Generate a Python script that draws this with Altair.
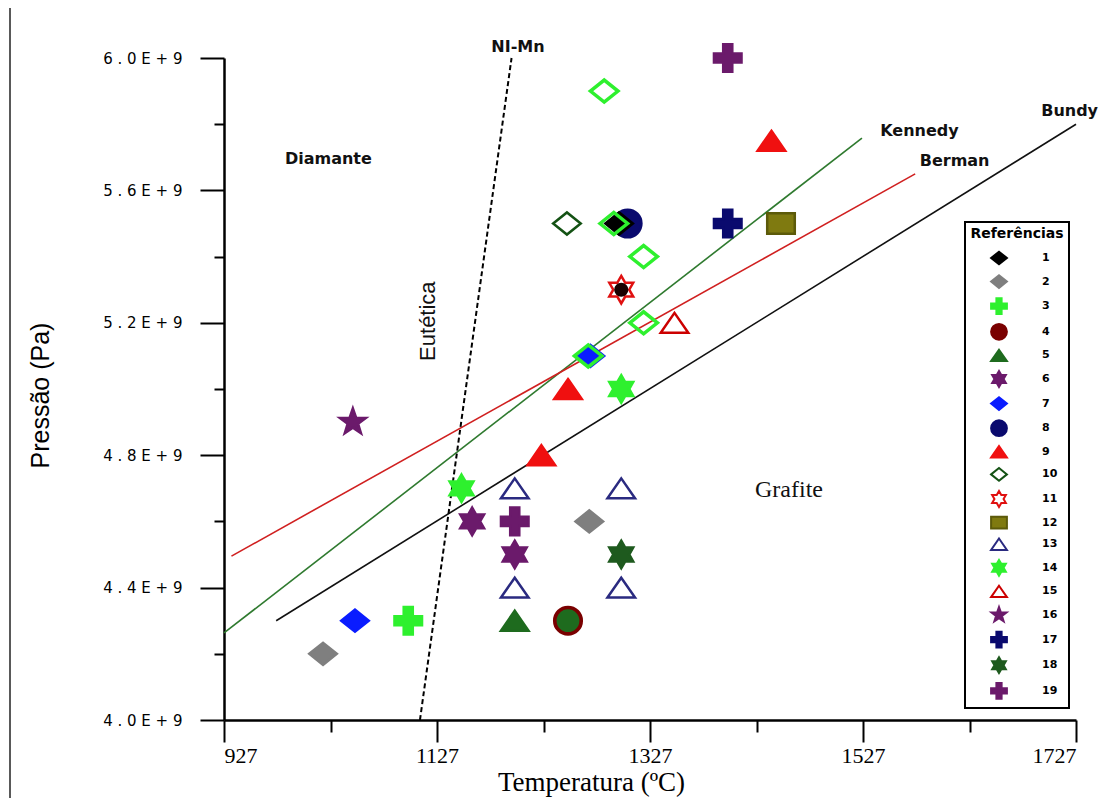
import altair as alt
import pandas as pd

# ---------------- data ----------------
ref_ids = [str(i) for i in range(1, 20)]
ref_stroke = ["#000000", "#7f7f7f", "#2ef02e", "#7a0000", "#1e6b1e", "#6b1a6b", "#0a1cff",
              "#0a0a6e", "#f01010", "#145214", "#e01010", "#5c5a0a", "#2a2a80", "#2ef02e",
              "#cc0000", "#6b1a6b", "#0a0a6e", "#1e5a1e", "#6b1a6b"]
ref_fill = ["#000000", "#7f7f7f", "#2ef02e", "#7a0000", "#1e6b1e", "#6b1a6b", "#0a1cff",
            "#0a0a6e", "#f01010", "white", "white", "#7f7a10", "white", "#2ef02e",
            "white", "#6b1a6b", "#0a0a6e", "#1e5a1e", "#6b1a6b"]

DIAMOND = "M-1,0L0,-0.8L1,0L0,0.8Z"
CROSS = ("M-0.33,-1L0.33,-1L0.33,-0.33L1,-0.33L1,0.33L0.33,0.33L0.33,1L-0.33,1"
         "L-0.33,0.33L-1,0.33L-1,-0.33L-0.33,-0.33Z")
TRI = "M0,-0.72L1,0.72L-1,0.72Z"
SQUARE = "M-1,-0.75L1,-0.75L1,0.75L-1,0.75Z"
HEXA = ("M0,-1L0.289,-0.5L0.866,-0.5L0.577,0L0.866,0.5L0.289,0.5L0,1L-0.289,0.5"
        "L-0.866,0.5L-0.577,0L-0.866,-0.5L-0.289,-0.5Z")
STAR5 = ("M0,-1L0.235,-0.324L0.951,-0.309L0.38,0.124L0.588,0.809L0,0.4L-0.588,0.809"
         "L-0.38,0.124L-0.951,-0.309L-0.235,-0.324Z")
ref_shape = [DIAMOND, DIAMOND, CROSS, "circle", TRI, HEXA, DIAMOND, "circle", TRI, DIAMOND,
             HEXA, SQUARE, TRI, HEXA, TRI, STAR5, CROSS, HEXA, CROSS]

pt_ref = ["8", "19", "9", "10", "1", "17", "12", "11", "15", "7", "9", "14", "16", "9",
          "14", "13", "13", "6", "19", "2", "6", "18", "13", "13", "5", "4", "7", "3", "2"]
pt_temp = [1306, 1400, 1441, 1249, 1298, 1400, 1450, 1300, 1350, 1271, 1250, 1300, 1048, 1225,
           1150, 1200, 1300, 1160, 1200, 1270, 1200, 1300, 1200, 1300, 1200, 1250, 1050, 1100, 1020]
pt_press = [5.5e9, 6.0e9, 5.75e9, 5.5e9, 5.5e9, 5.5e9, 5.5e9, 5.3e9, 5.2e9, 5.1e9, 5.0e9, 5.0e9,
            4.9e9, 4.8e9, 4.7e9, 4.7e9, 4.7e9, 4.6e9, 4.6e9, 4.6e9, 4.5e9, 4.5e9, 4.4e9, 4.4e9,
            4.3e9, 4.3e9, 4.3e9, 4.3e9, 4.2e9]

# lime open diamonds (not in legend)
lime_temp = [1284, 1293, 1321, 1321, 1269]
lime_press = [5.9e9, 5.5e9, 5.4e9, 5.2e9, 5.1e9]
# dark centre of point at 5.3 GPa and green fill of point at 4.3 GPa
dot_temp = [1300]
dot_press = [5.3e9]
green_temp = [1250]
green_press = [4.3e9]

line_name = ["Kennedy", "Kennedy", "Berman", "Berman", "Bundy", "Bundy"]
line_temp = [927, 1526, 934, 1576, 976, 1727]
line_press = [4.263e9, 5.758e9, 4.495e9, 5.65e9, 4.30e9, 5.80e9]
line_colors = ["#2f7a2f", "#d02020", "#111111"]

nimn_temp = [1111, 1197]
nimn_press = [4.0e9, 6.0e9]

lab_sans = ["NI-Mn", "Kennedy", "Berman", "Bundy", "Diamante"]
lab_sans_t = [1203, 1580, 1613, 1721, 1025]
lab_sans_p = [6.033e9, 5.78e9, 5.689e9, 5.84e9, 5.695e9]

x_ticks = list(range(927, 1728, 100))
y_ticks = [4000000000 + 200000000 * i for i in range(11)]

# ---------------- chart ----------------
xs = alt.Scale(domain=[927, 1727], nice=False, zero=False)
ys = alt.Scale(domain=[4.0e9, 6.0e9], nice=False, zero=False)

x_axis = alt.Axis(
    values=x_ticks, format="d", grid=False,
    labelExpr="(datum.value - 927) % 200 == 0 ? datum.label : ''",
    tickSize={"condition": {"test": "(datum.value - 927) % 200 == 0", "value": 22}, "value": 12},
    tickWidth=2, tickColor="black", domainColor="black", domainWidth=2.5,
    labelFont="Liberation Serif", labelFontSize=22, labelColor="black", labelPadding=3,
    title="Temperatura (ºC)", titleFont="Liberation Serif", titleFontSize=27,
    titleFontWeight="normal", titleColor="black", titleX=367, titleY=70,
    titleAlign="center", titleBaseline="alphabetic",
)
y_axis = alt.Axis(
    values=y_ticks, grid=False,
    labelExpr="(datum.value - 4e9) % 4e8 == 0 ? join(split(upper(format(datum.value, '.1e')), ''), ' ') : ''",
    tickSize={"condition": {"test": "(datum.value - 4e9) % 4e8 == 0", "value": 24}, "value": 10},
    tickWidth=2, tickColor="black", domainColor="black", domainWidth=2.5,
    labelFont="DejaVu Sans", labelFontSize=15, labelColor="black", labelPadding=18,
    title="Pressão (Pa)", titleFont="Liberation Sans", titleFontSize=25,
    titleFontWeight="normal", titleColor="black", titleX=-184, titleY=337,
    titleAngle=270, titleAlign="center", titleBaseline="middle",
)

X = lambda: alt.X("T:Q", scale=xs, axis=x_axis)
Y = lambda: alt.Y("P:Q", scale=ys, axis=y_axis)

df_lines = pd.DataFrame({"name": line_name, "T": line_temp, "P": line_press})
lines = alt.Chart(df_lines).mark_line(strokeWidth=1.6).encode(
    x=X(), y=Y(),
    color=alt.Color("name:N", scale=alt.Scale(domain=["Kennedy", "Berman", "Bundy"], range=line_colors),
                    legend=None),
    detail="name:N",
)

df_nimn = pd.DataFrame({"T": nimn_temp, "P": nimn_press})
nimn = alt.Chart(df_nimn).mark_line(strokeWidth=2, color="black", strokeDash=[5, 3]).encode(x=X(), y=Y())

legend = alt.Legend(
    title="Referências", orient="none", legendX=741, legendY=164, padding=5,
    strokeColor="black", fillColor="white", symbolSize=250, symbolStrokeWidth=2,
    symbolOffset=13, labelOffset=34, rowPadding=1.6,
    titleFont="DejaVu Sans", titleFontSize=14, titleFontWeight="bold", titleColor="black",
    titleAnchor="middle", titlePadding=8,
    labelFont="DejaVu Sans", labelFontSize=11, labelFontWeight="bold", labelColor="black",
)

df_pts = pd.DataFrame({"ref": pt_ref, "T": pt_temp, "P": pt_press})
points = alt.Chart(df_pts).mark_point(size=760, strokeWidth=2.5, opacity=1, fillOpacity=1).encode(
    x=X(), y=Y(),
    shape=alt.Shape("ref:N", scale=alt.Scale(domain=ref_ids, range=ref_shape), legend=legend),
    fill=alt.Fill("ref:N", scale=alt.Scale(domain=ref_ids, range=ref_fill), legend=legend),
    stroke=alt.Stroke("ref:N", scale=alt.Scale(domain=ref_ids, range=ref_stroke), legend=legend),
)

df_lime = pd.DataFrame({"T": lime_temp, "P": lime_press})
lime = alt.Chart(df_lime).mark_point(shape=DIAMOND, size=760, strokeWidth=3.5, stroke="#2ef02e",
                                     filled=False, opacity=1).encode(x=X(), y=Y())

df_dot = pd.DataFrame({"T": dot_temp, "P": dot_press})
dot = alt.Chart(df_dot).mark_point(shape="circle", size=200, filled=True, color="#1a0000",
                                   opacity=1).encode(x=X(), y=Y())

df_green = pd.DataFrame({"T": green_temp, "P": green_press})
green = alt.Chart(df_green).mark_point(shape="circle", size=520, filled=True, color="#1e6b1e",
                                       opacity=1).encode(x=X(), y=Y())

df_lab = pd.DataFrame({"txt": lab_sans, "T": lab_sans_t, "P": lab_sans_p})
labels = alt.Chart(df_lab).mark_text(font="DejaVu Sans", fontSize=16, fontWeight="bold",
                                     color="#111111", align="center", baseline="middle").encode(
    x=X(), y=Y(), text="txt:N")

eut = alt.Chart(pd.DataFrame({"txt": ["Eutética"], "T": [1118.5], "P": [5.205e9]})).mark_text(
    font="Liberation Sans", fontSize=22, angle=270, color="#111111", align="center",
    baseline="middle").encode(x=X(), y=Y(), text="txt:N")

graf = alt.Chart(pd.DataFrame({"txt": ["Grafite"], "T": [1457.5], "P": [4.695e9]})).mark_text(
    font="Liberation Serif", fontSize=24, color="#111111", align="center",
    baseline="middle").encode(x=X(), y=Y(), text="txt:N")

one = pd.DataFrame({"a": [0]})
frame_left = alt.Chart(one).mark_rule(color="#222222", strokeWidth=1.5).encode(
    x=alt.value(-214), y=alt.value(-52), y2=alt.value(745))
frame_top = alt.Chart(one).mark_rule(color="#222222", strokeWidth=1.5).encode(
    x=alt.value(-214), x2=alt.value(900), y=alt.value(-52))

chart = alt.layer(
    lines, nimn, points, green, dot, lime, labels, eut, graf, frame_left, frame_top
).resolve_scale(
    color="independent", shape="independent", fill="independent", stroke="independent"
).properties(
    width=852, height=662,
    autosize=alt.AutoSizeParams(type="none"),
    padding={"left": 216, "top": 50, "right": 30, "bottom": 78},
).configure_view(stroke=None).configure_legend(strokeWidth=2)

chart.save("out.html", embed_options={"renderer": "svg", "actions": False})
